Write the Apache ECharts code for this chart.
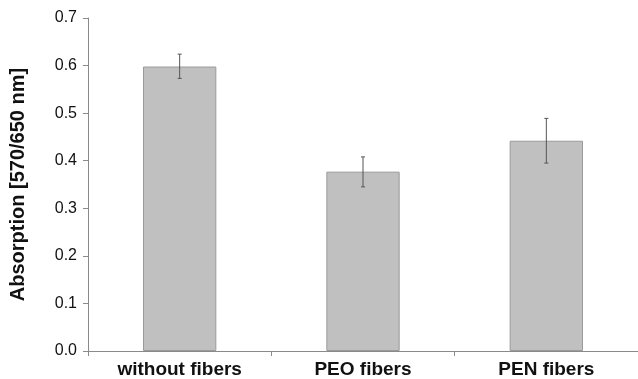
<!DOCTYPE html>
<html>
<head>
<meta charset="utf-8">
<script src="https://cdn.jsdelivr.net/npm/echarts@6/dist/echarts.min.js"></script>
<style>
  html, body { margin: 0; padding: 0; background: #fff; }
  #chart { width: 638px; height: 379px; }
</style>
</head>
<body>
<div id="chart"></div>
<script>
// Absorption measured without fibers and with PEO / PEN fibers
const categories = ['without fibers', 'PEO fibers', 'PEN fibers'];
const absorption = [0.598, 0.377, 0.442];
const errorLow = [0.573, 0.345, 0.395];
const errorHigh = [0.624, 0.408, 0.489];
const yTicks = [0, 0.1, 0.2, 0.3, 0.4, 0.5, 0.6, 0.7];

const chart = echarts.init(document.getElementById('chart'), null, { renderer: 'canvas' });

const errorData = categories.map((c, i) => [i, errorLow[i], errorHigh[i]]);

chart.setOption({
  animation: false,
  backgroundColor: '#ffffff',
  grid: { left: 86, right: 0, top: 18, bottom: 28 },
  xAxis: {
    type: 'category',
    data: categories,
    axisLine: { lineStyle: { color: '#8a8a8a', width: 1 } },
    axisTick: { show: true, length: 5, alignWithLabel: false, lineStyle: { color: '#8a8a8a' } },
    axisLabel: {
      color: '#111', fontFamily: 'Liberation Sans, Arial, sans-serif',
      fontWeight: 'bold', fontSize: 19, margin: 9
    }
  },
  yAxis: {
    type: 'value',
    min: yTicks[0],
    max: yTicks[yTicks.length - 1],
    interval: 0.1,
    name: 'Absorption [570/650 nm]',
    nameLocation: 'middle',
    nameGap: 60,
    nameTextStyle: {
      color: '#111', fontFamily: 'Liberation Sans, Arial, sans-serif',
      fontWeight: 'bold', fontSize: 20
    },
    splitLine: { show: false },
    axisLine: { show: true, lineStyle: { color: '#8a8a8a', width: 1 } },
    axisTick: { show: true, length: 5, lineStyle: { color: '#8a8a8a' } },
    axisLabel: {
      color: '#111', fontFamily: 'Liberation Sans, Arial, sans-serif',
      fontSize: 16, margin: 11,
      formatter: v => v.toFixed(1)
    }
  },
  series: [
    {
      type: 'bar',
      data: absorption,
      barWidth: '40%',
      itemStyle: { color: '#c0c0c0', borderColor: '#9a9a9a', borderWidth: 1 },
      z: 2
    },
    {
      type: 'custom',
      data: errorData,
      z: 3,
      renderItem: function (params, api) {
        const x = api.value(0);
        const lo = api.coord([x, api.value(1)]);
        const hi = api.coord([x, api.value(2)]);
        const cap = 2;
        const style = { stroke: '#555', lineWidth: 1 };
        return {
          type: 'group',
          children: [
            { type: 'line', shape: { x1: hi[0], y1: hi[1], x2: lo[0], y2: lo[1] }, style },
            { type: 'line', shape: { x1: hi[0] - cap, y1: hi[1], x2: hi[0] + cap, y2: hi[1] }, style },
            { type: 'line', shape: { x1: lo[0] - cap, y1: lo[1], x2: lo[0] + cap, y2: lo[1] }, style }
          ]
        };
      }
    }
  ]
});
</script>
</body>
</html>
